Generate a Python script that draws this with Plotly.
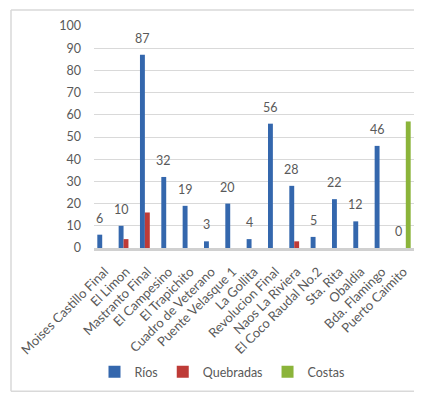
import plotly.graph_objects as go

categories = ["Moises Castillo Final", "El Limon", "Mastranto Final", "El Campesino",
              "El Trapichito", "Cuadro de Veterano", "Puente Velasque 1", "La Gollita",
              "Revolucion Final", "Naos La Riviera", "El Coco Raudal No.2", "Sta. Rita",
              "Obaldia", "Bda. Flamingo", "Puerto Caimito"]
rios = [6, 10, 87, 32, 19, 3, 20, 4, 56, 28, 5, 22, 12, 46, 0]
quebradas = [None, 4, 16, None, None, None, None, None, None, 3, None, None, None, None, None]
costas = [None, None, None, None, None, None, None, None, None, None, None, None, None, None, 57]
y_ticks = list(range(0, 101, 10))

OFF = 8                       # default page body margin
W, H = 433 - OFF, 397 - OFF
# target plot area in page pixels
PX0, PX1, PY0, PY1 = 94, 414, 26, 249
ML, MR, MT, MB = PX0 - OFF, W - (PX1 - OFF), PY0 - OFF, H - (PY1 - OFF)
BARGAP = 0.31
FONT = "Lato, 'Open Sans', sans-serif"
TXT = "#595959"

plot_w = PX1 - PX0
plot_h = PY1 - PY0


def px_x(px):
    return (px - PX0) / plot_w


def px_y(py):
    return (PY1 - py) / plot_h


fig = go.Figure()
fig.add_bar(x=categories, y=rios, name="Ríos", marker=dict(color="#3467AD", line=dict(width=0)))
fig.add_bar(x=categories, y=quebradas, name="Quebradas", marker=dict(color="#BE3B37", line=dict(width=0)))
fig.add_bar(x=categories, y=costas, name="Costas", marker=dict(color="#8BB43A", line=dict(width=0)))

# data labels on the Ríos series (first bar in each group)
cat_w = plot_w / len(categories)
bar_w = cat_w * (1 - BARGAP) / 3
annotations = []
for c, v in zip(categories, rios):
    annotations.append(dict(x=c, y=v, xref="x", yref="y", text=str(v),
                            showarrow=False, yanchor="bottom", xanchor="center",
                            xshift=-bar_w, yshift=7,
                            font=dict(family=FONT, size=12.5, color=TXT)))

# outer chart border (left, top, bottom)
bx0, by0, by1 = px_x(11), px_y(10), px_y(393)
line = dict(color="#D9D9D9", width=1.5)
shapes = [
    dict(type="line", xref="paper", yref="paper", x0=bx0, x1=1, y0=by0, y1=by0, line=line),
    dict(type="line", xref="paper", yref="paper", x0=bx0, x1=1, y0=by1, y1=by1, line=line),
    dict(type="line", xref="paper", yref="paper", x0=bx0, x1=bx0, y0=by1, y1=by0, line=line),
]

fig.update_layout(
    width=W, height=H,
    margin=dict(l=ML, r=MR, t=MT, b=MB, pad=0),
    paper_bgcolor="white", plot_bgcolor="white",
    barmode="group", bargap=BARGAP, bargroupgap=0,
    font=dict(family=FONT, color=TXT),
    annotations=annotations, shapes=shapes,
    legend=dict(orientation="h", x=px_x(222), xanchor="center", y=px_y(372), yanchor="middle",
                font=dict(family=FONT, size=12.5, color=TXT),
                itemwidth=30, tracegroupgap=0, itemclick=False),
    xaxis=dict(type="category", tickangle=-45, showgrid=False, ticks="",
               showline=True, linecolor="#D0D0D0", linewidth=3, ticklabelstandoff=8,
               tickfont=dict(family=FONT, size=13, color=TXT), automargin=False),
    yaxis=dict(range=[0, 100], tickvals=y_ticks, showgrid=True, gridcolor="#D9D9D9",
               gridwidth=1, zeroline=False, ticks="", ticklabelstandoff=12,
               tickfont=dict(family=FONT, size=12.5, color=TXT), automargin=False),
)

fig.write_html("out.html")
